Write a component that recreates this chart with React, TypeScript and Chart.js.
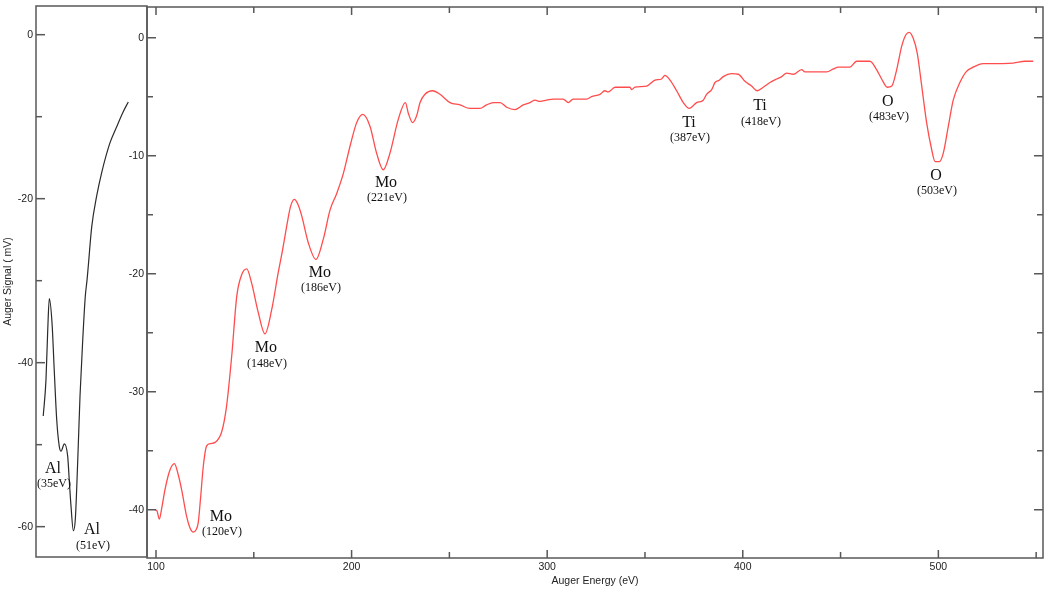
import React, { useEffect, useRef } from 'react';
import { Chart, registerables } from 'chart.js';

Chart.register(...registerables);

// ---------- Data: right panel (red spectrum) ----------
const rightEnergy = [
  99.5, 100.5, 101.7, 103, 104.6, 107, 109.4, 111.3, 113.1, 115.7, 117.5, 119.1, 120.5, 121.6, 122.8,
  124.2, 125.9, 128, 130.2, 133.6, 136.1, 138.7, 141.3, 143.8, 146.4, 148.9, 152.3, 155.7, 159.1,
  162.5, 164.7, 166.8, 168.8, 170.7, 172.5, 174.5, 177.9, 181.8, 185.5, 189, 192.4, 195.8, 199.2,
  202.6, 205.7, 209.4, 212.8, 216.2, 219.6, 223.9, 227.5, 229, 231.2, 233.3, 235, 237.5, 241.5,
  245.2, 250.3, 255.4, 260.5, 265.6, 269, 272.4, 275.9, 279.3, 283.5, 287.8, 291.2, 293.8, 296.3,
  299.7, 303.1, 308.2, 310.8, 313.3, 320.2, 322.7, 327, 329.5, 331.2, 334.7, 342.3, 343.2, 344.9,
  350.9, 355.1, 358.5, 360.2, 362.8, 366.2, 369.6, 372.6, 376.4, 379.8, 381.5, 384.1, 385.8, 388,
  390, 394.3, 397.7, 401.1, 404.5, 407.4, 410.5, 413.9, 417.3, 419.9, 422.4, 425.8, 430.1, 431.8,
  442.9, 446.3, 448.8, 454.8, 458.2, 465, 468.4, 471, 473.9, 476.2, 478.7, 481.3, 483.4, 485.1,
  487.1, 489.2, 491.5, 494, 496.6, 498.3, 500.5, 502.5, 505.1, 507.6, 511, 514.4, 517.8, 520.4,
  522.9, 524.7, 538.3, 544.3, 548.5,
];
const rightSignal = [
  -40.0, -40.1, -40.8, -39.8, -38.3, -36.7, -36.1, -37.0, -38.3, -40.6, -41.6, -41.9, -41.7, -41.1, -39.0,
  -36.3, -34.6, -34.4, -34.3, -33.4, -31.2, -27.0, -21.9, -20.1, -19.6, -20.8, -23.3, -25.1, -23.1,
  -19.9, -18.0, -16.0, -14.3, -13.7, -14.1, -15.1, -17.4, -18.8, -17.1, -14.6, -13.2, -11.5, -9.2,
  -7.2, -6.5, -7.5, -9.8, -11.2, -9.8, -6.9, -5.5, -6.4, -7.2, -6.6, -5.5, -4.8, -4.5,
  -4.8, -5.5, -5.7, -6.0, -6.0, -5.7, -5.5, -5.5, -5.9, -6.1, -5.7, -5.5, -5.3, -5.4,
  -5.3, -5.2, -5.2, -5.5, -5.2, -5.2, -5.0, -4.8, -4.5, -4.6, -4.2, -4.2, -4.4, -4.2,
  -4.1, -3.6, -3.5, -3.2, -3.6, -4.5, -5.5, -6.0, -5.5, -5.3, -4.8, -4.4, -3.8, -3.6,
  -3.3, -3.05, -3.1, -3.7, -4.1, -4.5, -4.2, -3.8, -3.5, -3.3, -3.0, -3.1, -2.7, -2.9,
  -2.9, -2.65, -2.5, -2.5, -2.0, -2.0, -2.7, -3.5, -4.2, -4.1, -2.7, -0.7, 0.25, 0.45,
  -0.03, -1.3, -4.1, -7.2, -9.5, -10.5, -10.5, -9.8, -7.5, -5.3, -3.8, -2.85, -2.5, -2.3,
  -2.2, -2.2, -2.15, -2.0, -2.0,
];

// ---------- Data: left panel (black Al spectrum) ----------
const leftEnergy = [
  35.7, 37.1, 38.0, 38.8, 40.2, 41.4, 42.6, 43.9, 44.8, 46.5, 48.2, 49.0, 49.9, 51.1, 52.1, 53.3,
  54.5, 55.9, 57.2, 58.1, 58.7, 60.5, 63.0, 65.5, 69.8, 73.3, 76.6, 79.2,
];
const leftSignal = [
  -46.5, -42.1, -36.0, -32.2, -35.2, -41.3, -47.0, -50.2, -50.8, -49.9, -51.4, -54.3, -57.5, -60.5, -59.1, -52.2,
  -44.1, -37.2, -31.9, -29.9, -28.3, -23.4, -19.7, -16.9, -13.2, -11.2, -9.4, -8.2,
];

// ---------- Peak annotations ----------
const rightPeakNames = ['Mo', 'Mo', 'Mo', 'Mo', 'Ti', 'Ti', 'O', 'O'];
const rightPeakEnergies = ['(120eV)', '(148eV)', '(186eV)', '(221eV)', '(387eV)', '(418eV)', '(483eV)', '(503eV)'];
const rightPeakX = [133.2, 156.2, 183.8, 217.6, 372.5, 408.8, 474.2, 498.8];
const rightPeakY = [-40.6, -26.3, -19.9, -12.3, -7.2, -5.8, -5.4, -11.7];

const leftPeakNames = ['Al', 'Al'];
const leftPeakEnergies = ['(35eV)', '(51eV)'];
const leftPeakX = [40.7, 60.6];
const leftPeakY = [-52.9, -60.4];

// ---------- Axis settings ----------
const rightXMin = 95.4;
const rightXMax = 553.5;
const rightXStep = 50;
const rightYMin = -44.1;
const rightYMax = 2.6;
const rightYStep = 5;
const leftXMin = 32;
const leftXMax = 88.75;
const leftYMin = -63.7;
const leftYMax = 3.5;
const leftYStep = 10;

const W = 1052;
const H = 595;
const AXIS_COLOR = '#585858';
const TEXT_COLOR = '#222222';
const SANS = '"Liberation Sans", Arial, sans-serif';
const SERIF = '"Liberation Serif", "Times New Roman", serif';

function makeFramePlugin(id: string, sides: { left: boolean; right: boolean; top: boolean; bottom: boolean }, yMajor: number, xMajor: number) {
  return {
    id,
    afterDraw(chart: any) {
      const { ctx, chartArea } = chart;
      const { left, right, top, bottom } = chartArea;
      ctx.save();
      ctx.strokeStyle = AXIS_COLOR;
      ctx.lineWidth = 1.5;
      ctx.strokeRect(left, top, right - left, bottom - top);
      const ys = chart.scales.y;
      ys.ticks.forEach((t: any) => {
        const y = ys.getPixelForValue(t.value);
        const major = Math.abs(t.value % yMajor) < 1e-6;
        const len = major ? 9 : 6;
        ctx.beginPath();
        if (sides.left) {
          ctx.moveTo(left, y);
          ctx.lineTo(left + len, y);
        }
        if (sides.right) {
          ctx.moveTo(right, y);
          ctx.lineTo(right - len, y);
        }
        ctx.stroke();
      });
      const xs = chart.scales.x;
      if (sides.top || sides.bottom) {
        xs.ticks.forEach((t: any) => {
          const x = xs.getPixelForValue(t.value);
          const major = Math.abs(t.value % xMajor) < 1e-6;
          const len = major ? 8 : 6;
          ctx.beginPath();
          if (sides.bottom) {
            ctx.moveTo(x, bottom);
            ctx.lineTo(x, bottom - len);
          }
          if (sides.top) {
            ctx.moveTo(x, top);
            ctx.lineTo(x, top + len);
          }
          ctx.stroke();
        });
      }
      ctx.restore();
    },
  };
}

function makeLabelPlugin(id: string, names: string[], energies: string[], xs: number[], ys: number[]) {
  return {
    id,
    afterDatasetsDraw(chart: any) {
      const { ctx } = chart;
      const sx = chart.scales.x;
      const sy = chart.scales.y;
      ctx.save();
      ctx.fillStyle = '#111111';
      ctx.textAlign = 'center';
      ctx.textBaseline = 'middle';
      names.forEach((n, i) => {
        const px = sx.getPixelForValue(xs[i]);
        const py = sy.getPixelForValue(ys[i]);
        ctx.font = `16px ${SERIF}`;
        ctx.fillText(n, px, py);
        ctx.font = `12px ${SERIF}`;
        ctx.fillText(energies[i], px + 1, py + 15.5);
      });
      ctx.restore();
    },
  };
}

const tickFont = { family: SANS, size: 10.5 };

const noPad = (s: any) => {
  s.paddingTop = 0;
  s.paddingBottom = 0;
  s.paddingLeft = 0;
  s.paddingRight = 0;
};

export default function App() {
  const leftRef = useRef<HTMLCanvasElement | null>(null);
  const rightRef = useRef<HTMLCanvasElement | null>(null);

  useEffect(() => {
    if (!leftRef.current || !rightRef.current) return;

    const leftChart = new Chart(leftRef.current, {
      type: 'line',
      data: {
        datasets: [
          {
            data: leftEnergy.map((x, i) => ({ x, y: leftSignal[i] })),
            borderColor: '#2b2b2b',
            borderWidth: 1.2,
            pointRadius: 0,
            fill: false,
            cubicInterpolationMode: 'monotone',
          },
        ],
      },
      options: {
        animation: false,
        responsive: false,
        layout: { padding: { left: 0, right: W - 147, top: 6, bottom: H - 557 } },
        plugins: { legend: { display: false }, tooltip: { enabled: false } },
        scales: {
          x: { type: 'linear', display: false, min: leftXMin, max: leftXMax },
          y: {
            type: 'linear',
            min: leftYMin,
            max: leftYMax,
            grid: { display: false, drawTicks: false },
            border: { display: false },
            ticks: {
              stepSize: leftYStep,
              includeBounds: false,
              padding: 3,
              color: TEXT_COLOR,
              font: tickFont,
              callback: (v: any) => (Math.abs(Number(v) % 20) < 1e-6 ? String(v) : ''),
            },
            title: {
              display: true,
              text: 'Auger Signal ( mV)',
              color: TEXT_COLOR,
              font: tickFont,
              padding: { top: 1.5, bottom: 0 },
            },
            afterFit: (s: any) => {
              s.width = 36;
              noPad(s);
            },
          },
        },
      } as any,
      plugins: [
        makeFramePlugin('leftFrame', { left: true, right: false, top: false, bottom: false }, 20, 100),
        makeLabelPlugin('leftLabels', leftPeakNames, leftPeakEnergies, leftPeakX, leftPeakY),
      ],
    });

    const rightChart = new Chart(rightRef.current, {
      type: 'line',
      data: {
        datasets: [
          {
            data: rightEnergy.map((x, i) => ({ x, y: rightSignal[i] })),
            borderColor: '#ff4d4d',
            borderWidth: 1.3,
            pointRadius: 0,
            fill: false,
            cubicInterpolationMode: 'monotone',
          },
        ],
      },
      options: {
        animation: false,
        responsive: false,
        layout: { padding: { left: 0, right: W - 1043, top: 7, bottom: 0 } },
        plugins: { legend: { display: false }, tooltip: { enabled: false } },
        scales: {
          x: {
            type: 'linear',
            min: rightXMin,
            max: rightXMax,
            grid: { display: false, drawTicks: false },
            border: { display: false },
            ticks: {
              stepSize: rightXStep,
              includeBounds: false,
              autoSkip: false,
              maxRotation: 0,
              padding: 3,
              color: TEXT_COLOR,
              font: tickFont,
              callback: (v: any) => (Math.abs(Number(v) % 100) < 1e-6 ? String(v) : ''),
            },
            title: {
              display: true,
              text: 'Auger Energy (eV)',
              color: TEXT_COLOR,
              font: tickFont,
              padding: { top: 0, bottom: 7.5 },
            },
            afterFit: (s: any) => {
              s.height = H - 558;
              noPad(s);
            },
          },
          y: {
            type: 'linear',
            min: rightYMin,
            max: rightYMax,
            grid: { display: false, drawTicks: false },
            border: { display: false },
            ticks: {
              stepSize: rightYStep,
              includeBounds: false,
              padding: 3,
              color: TEXT_COLOR,
              font: tickFont,
              callback: (v: any) => (Math.abs(Number(v) % 10) < 1e-6 ? String(v) : ''),
            },
            afterFit: (s: any) => {
              s.width = 147;
              noPad(s);
            },
          },
        },
      } as any,
      plugins: [
        makeFramePlugin('rightFrame', { left: true, right: true, top: true, bottom: true }, 10, 100),
        makeLabelPlugin('rightLabels', rightPeakNames, rightPeakEnergies, rightPeakX, rightPeakY),
      ],
    });

    return () => {
      leftChart.destroy();
      rightChart.destroy();
    };
  }, []);

  const canvasStyle: React.CSSProperties = {
    position: 'absolute',
    left: 0,
    top: 0,
    width: W,
    height: H,
  };

  return (
    <div style={{ position: 'absolute', left: 0, top: 0, width: W, height: H, background: '#ffffff' }}>
      <canvas ref={leftRef} width={W} height={H} style={canvasStyle} />
      <canvas ref={rightRef} width={W} height={H} style={canvasStyle} />
    </div>
  );
}
